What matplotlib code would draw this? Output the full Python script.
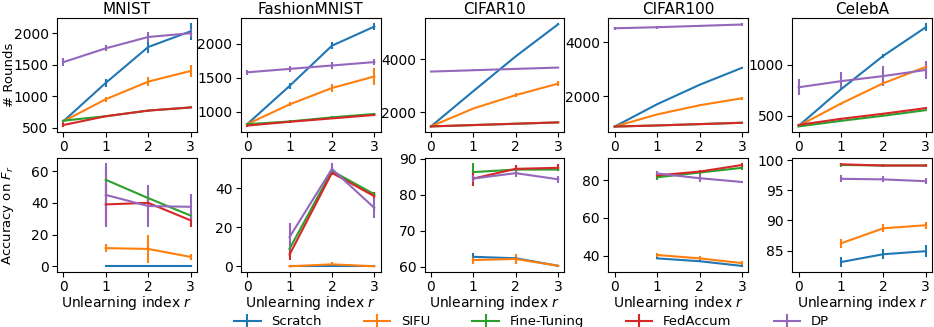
import matplotlib
matplotlib.use('Agg')
import matplotlib.pyplot as plt
import numpy as np

datasets = ['MNIST', 'FashionMNIST', 'CIFAR10', 'CIFAR100', 'CelebA']
methods = ['Scratch', 'SIFU', 'Fine-Tuning', 'FedAccum', 'DP']
colors = ['tab:blue', 'tab:orange', 'tab:green', 'tab:red', 'tab:purple']

r_rounds = [0, 1, 2, 3]
r_acc = [1, 2, 3]

# number of rounds (mean, std) per dataset and method
rounds = {
    'MNIST': [[600, 1210, 1780, 2030], [600, 950, 1230, 1400], [610, 680, 770, 820],
              [540, 680, 770, 820], [1540, 1760, 1940, 2000]],
    'FashionMNIST': [[820, 1380, 1970, 2250], [820, 1110, 1350, 1520], [820, 860, 920, 970],
                     [800, 855, 905, 955], [1580, 1630, 1680, 1730]],
    'CIFAR10': [[1480, 2800, 4100, 5300], [1480, 2150, 2650, 3080], [1480, 1530, 1580, 1630],
                [1480, 1530, 1580, 1630], [3530, 3580, 3630, 3680]],
    'CIFAR100': [[870, 1700, 2420, 3050], [870, 1320, 1660, 1920], [870, 910, 960, 1010],
                 [870, 910, 960, 1010], [4520, 4560, 4610, 4660]],
    'CelebA': [[400, 760, 1090, 1370], [400, 620, 820, 980], [395, 450, 500, 555],
               [410, 470, 520, 575], [780, 840, 890, 950]],
}
rounds_err = {
    'MNIST': [[20, 60, 100, 130], [15, 40, 70, 90], [10, 15, 15, 15],
              [30, 15, 15, 15], [60, 50, 80, 60]],
    'FashionMNIST': [[15, 40, 50, 50], [15, 30, 60, 120], [10, 15, 15, 15],
                     [20, 15, 15, 15], [40, 40, 50, 50]],
    'CIFAR10': [[20, 20, 30, 40], [20, 30, 80, 100], [15, 15, 15, 15],
                [15, 15, 15, 15], [20, 30, 30, 30]],
    'CIFAR100': [[15, 15, 20, 20], [15, 20, 30, 50], [10, 10, 10, 10],
                 [10, 10, 10, 10], [50, 50, 50, 50]],
    'CelebA': [[10, 10, 20, 40], [10, 10, 30, 40], [5, 5, 5, 5],
               [10, 10, 10, 10], [80, 90, 100, 90]],
}

# accuracy on forgotten data (mean, std)
acc = {
    'MNIST': [[0, 0, 0], [11.5, 11, 6], [54.5, 43, 32], [39, 40, 29], [45, 38, 37.5]],
    'FashionMNIST': [[0, 0, 0], [0, 1, 0], [9, 49, 37], [6, 48, 36], [15, 50, 30]],
    'CIFAR10': [[62.7, 62.3, 60.2], [61.8, 62.1, 60.2], [86.3, 87, 87],
                [84.5, 87.2, 87.5], [84.5, 86, 84.3]],
    'CIFAR100': [[38.5, 37, 34.5], [40.3, 38.5, 36], [81.5, 84, 86.5],
                 [82.5, 84.5, 88], [83.5, 81, 79]],
    'CelebA': [[83.1, 84.4, 84.9], [86.2, 88.7, 89.2], [99.2, 99.1, 99.1],
               [99.3, 99.1, 99.1], [96.9, 96.8, 96.5]],
}
acc_err = {
    'MNIST': [[0.3, 0.3, 0.3], [2.5, 9, 2], [8, 3, 2], [13, 2, 4], [20, 13, 8]],
    'FashionMNIST': [[0.2, 0.2, 0.2], [0.3, 1, 0.3], [3, 2, 1], [3, 1, 2], [7, 3, 5]],
    'CIFAR10': [[1, 1, 0.3], [1, 1.5, 0.3], [2.5, 0.5, 0.5], [2, 1, 1], [1, 1, 1]],
    'CIFAR100': [[0.5, 0.5, 0.5], [1, 1, 1], [1.5, 1, 1], [1, 1, 1], [1.5, 2, 0.5]],
    'CelebA': [[0.8, 0.8, 1], [0.8, 0.7, 0.6], [0.3, 0.2, 0.2], [0.2, 0.2, 0.2], [0.6, 0.5, 0.5]],
}

plt.rcParams['font.size'] = 10
plt.rcParams['xtick.major.pad'] = 2.5
plt.rcParams['ytick.major.pad'] = 2.5
fig, axes = plt.subplots(2, 5, figsize=(9.34, 3.27), dpi=100, sharex='col')
fig.subplots_adjust(left=0.061, right=0.998, top=0.945, bottom=0.168, wspace=0.314, hspace=0.226)

for j, ds in enumerate(datasets):
    ax = axes[0, j]
    ax2 = axes[1, j]
    for k, m in enumerate(methods):
        ax.errorbar(r_rounds, rounds[ds][k], yerr=rounds_err[ds][k], color=colors[k], lw=1.5, label=m)
        ax2.errorbar(r_acc, acc[ds][k], yerr=acc_err[ds][k], color=colors[k], lw=1.5)
    ax.set_title(ds, fontsize=11, pad=3)
    ax2.set_xticks([0, 1, 2, 3])
    ax2.set_xlabel('Unlearning index $r$', fontsize=10, labelpad=0)
    ax.tick_params(labelbottom=True)

axes[0, 0].set_ylabel('# Rounds', fontsize=9.5)
axes[1, 0].set_ylabel('Accuracy on $F_r$', fontsize=9.5)
axes[0, 0].yaxis.set_label_coords(-0.29, 0.5)
axes[1, 0].yaxis.set_label_coords(-0.29, 0.5)

axes[0, 2].set_yticks([2000, 4000])
axes[0, 3].set_yticks([2000, 4000])
axes[0, 4].set_yticks([500, 1000])
axes[1, 4].set_yticks([85, 90, 95, 100])

handles, labels = axes[0, 0].get_legend_handles_labels()
fig.legend(handles, labels, loc='lower center', ncol=5, frameon=False, fontsize=9.5,
           bbox_to_anchor=(0.569, -0.04), columnspacing=3.2)

fig.savefig('out.png', dpi=100)
